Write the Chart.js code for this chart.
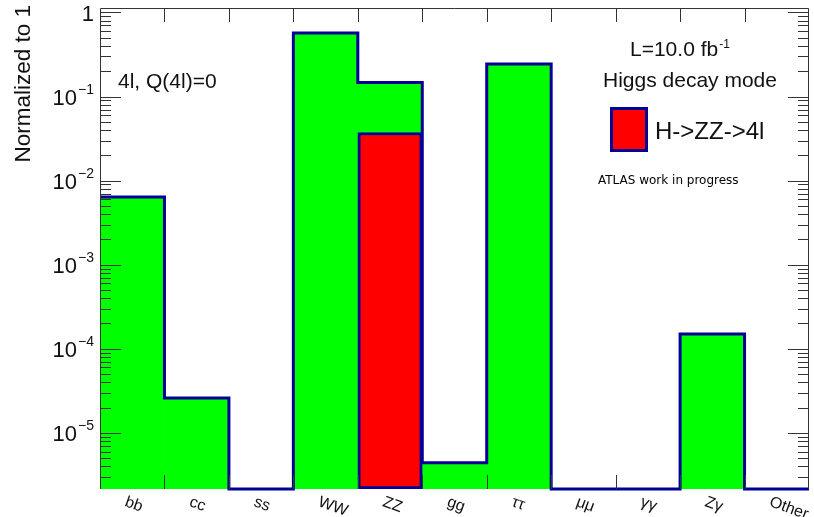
<!DOCTYPE html>
<html>
<head>
<meta charset="utf-8">
<script src="https://cdn.jsdelivr.net/npm/chart.js@4"></script>
<style>
  html, body { margin: 0; padding: 0; background: #fff; }
  canvas { display: block; }
</style>
</head>
<body>
<canvas id="myChart" width="814" height="517"></canvas>
<script>
const categories = ['bb', 'cc', 'ss', 'WW', 'ZZ', 'gg', 'ττ', 'μμ', 'γγ', 'Zγ', 'Other'];
// all decay modes (green) and the H->ZZ->4l part (red)
const allModes = [6.4e-3, 2.6e-5, 0, 0.57, 0.147, 4.4e-6, 0.243, 0, 0, 1.5e-4, 0];
const zzTo4l = [0, 0, 0, 0, 0.0374, 0, 0, 0, 0, 0, 0];
const yTicks = [1, 1e-1, 1e-2, 1e-3, 1e-4, 1e-5];
const yTickBase = ['1', '10', '10', '10', '10', '10'];
const yTickExp = ['', '−1', '−2', '−3', '−4', '−5'];
const yMin = 2.15e-6;
const yMax = 1.13;

const navy = '#000099';
const font = '"Liberation Sans", Arial, sans-serif';

// histogram outline, one point per bin edge
const outline = categories.map((c, i) => ({ x: i - 0.5, y: Math.max(allModes[i], yMin) }));
outline.push({ x: categories.length - 0.5, y: yMin });

const decor = {
    id: 'decor',
    afterDraw(chart) {
        const { ctx, chartArea: a, scales } = chart;
        const y = scales.y, xe = scales.xe;
        ctx.save();
        ctx.strokeStyle = '#333';
        ctx.lineWidth = 1;

        // frame
        ctx.beginPath();
        ctx.moveTo(a.left + 0.5, a.bottom);
        ctx.lineTo(a.left + 0.5, a.top + 0.5);
        ctx.lineTo(a.right - 0.5, a.top + 0.5);
        ctx.lineTo(a.right - 0.5, a.bottom);
        ctx.stroke();

        // y ticks, left and right, inside
        ctx.beginPath();
        for (let d = 0; d >= -6; d--) {
            for (let k = 1; k <= 9; k++) {
                const v = k * Math.pow(10, d);
                if (v < yMin || v > yMax) continue;
                const py = Math.round(y.getPixelForValue(v)) + 0.5;
                const len = k === 1 ? 21 : 11;
                ctx.moveTo(a.left, py); ctx.lineTo(a.left + len, py);
                ctx.moveTo(a.right, py); ctx.lineTo(a.right - len, py);
            }
        }
        // x ticks at bin edges, top and bottom
        for (let i = 1; i < categories.length; i++) {
            const px = Math.round(xe.getPixelForValue(i - 0.5)) + 0.5;
            ctx.moveTo(px, a.top); ctx.lineTo(px, a.top + 14);
            ctx.moveTo(px, a.bottom); ctx.lineTo(px, a.bottom - 14);
        }
        ctx.stroke();

        // y tick labels with superscripts
        ctx.fillStyle = '#111';
        ctx.textBaseline = 'alphabetic';
        yTicks.forEach((v, i) => {
            const py = y.getPixelForValue(v);
            let right = 94;
            if (yTickExp[i]) {
                ctx.font = '14px ' + font;
                ctx.textAlign = 'right';
                ctx.fillText(yTickExp[i], right, py - 2.5);
                right -= ctx.measureText(yTickExp[i]).width + 1;
            }
            ctx.font = '22px ' + font;
            ctx.textAlign = 'right';
            ctx.fillText(yTickBase[i], right, py + 8.5);
        });

        // y axis title
        ctx.save();
        ctx.translate(30, 5);
        ctx.rotate(-Math.PI / 2);
        ctx.font = '22.5px ' + font;
        ctx.textAlign = 'right';
        ctx.fillText('Normalized to 1', 0, 0);
        ctx.restore();

        // x category labels, rotated
        ctx.font = '16px ' + font;
        ctx.textAlign = 'left';
        ctx.textBaseline = 'top';
        categories.forEach((c, i) => {
            const px = xe.getPixelForValue(i);
            ctx.save();
            ctx.translate(px - 4, a.bottom + 5);
            ctx.rotate(20 * Math.PI / 180);
            ctx.fillText(c, 0, 0);
            ctx.restore();
        });

        // texts
        ctx.textBaseline = 'alphabetic';
        ctx.textAlign = 'left';
        ctx.font = '21px ' + font;
        ctx.fillText('4l, Q(4l)=0', 118, 87.5);
        ctx.fillText('Higgs decay mode', 603, 86.5);
        ctx.fillText('L=10.0 fb', 630, 56);
        const lw = ctx.measureText('L=10.0 fb').width;
        ctx.font = '12px ' + font;
        ctx.fillText('-1', 630 + lw + 1, 48);

        // legend
        ctx.fillStyle = '#ff0000';
        ctx.fillRect(610, 107, 38, 45);
        ctx.strokeStyle = navy;
        ctx.lineWidth = 3;
        ctx.strokeRect(611.5, 108.5, 35, 42);
        ctx.fillStyle = '#111';
        ctx.font = '24px ' + font;
        ctx.fillText('H->ZZ->4l', 655, 139);

        ctx.font = '12px "DejaVu Sans", sans-serif';
        ctx.fillStyle = '#000';
        ctx.fillText('ATLAS work in progress', 598, 184);
        ctx.restore();
    }
};

const ctx = document.getElementById('myChart');

new Chart(ctx, {
    type: 'bar',
    data: {
        labels: categories,
        datasets: [{
            label: 'H->ZZ->4l',
            data: zzTo4l.map(v => v || null),
            backgroundColor: '#ff0000',
            borderColor: navy,
            borderWidth: 3,
            borderSkipped: false,
            grouped: false,
            barPercentage: 1,
            categoryPercentage: 1,
            order: 0
        }, {
            type: 'line',
            label: 'outline',
            data: outline,
            xAxisID: 'xe',
            stepped: 'before',
            borderColor: navy,
            borderWidth: 3,
            pointRadius: 0,
            fill: false,
            clip: 3,
            order: 1
        }, {
            label: 'Higgs decay mode',
            data: allModes.map(v => v || null),
            backgroundColor: '#00ff00',
            borderWidth: 0,
            grouped: false,
            barPercentage: 1,
            categoryPercentage: 1,
            order: 2
        }]
    },
    options: {
        responsive: false,
        animation: false,
        events: [],
        layout: { padding: { left: 100, top: 8, right: 5, bottom: 28 } },
        plugins: { legend: { display: false }, tooltip: { enabled: false } },
        scales: {
            x: { type: 'category', offset: true, display: false },
            xe: { type: 'linear', offset: false, min: -0.5, max: categories.length - 0.5, display: false },
            y: { type: 'logarithmic', min: yMin, max: yMax, display: false }
        }
    },
    plugins: [decor]
});
</script>
</body>
</html>
